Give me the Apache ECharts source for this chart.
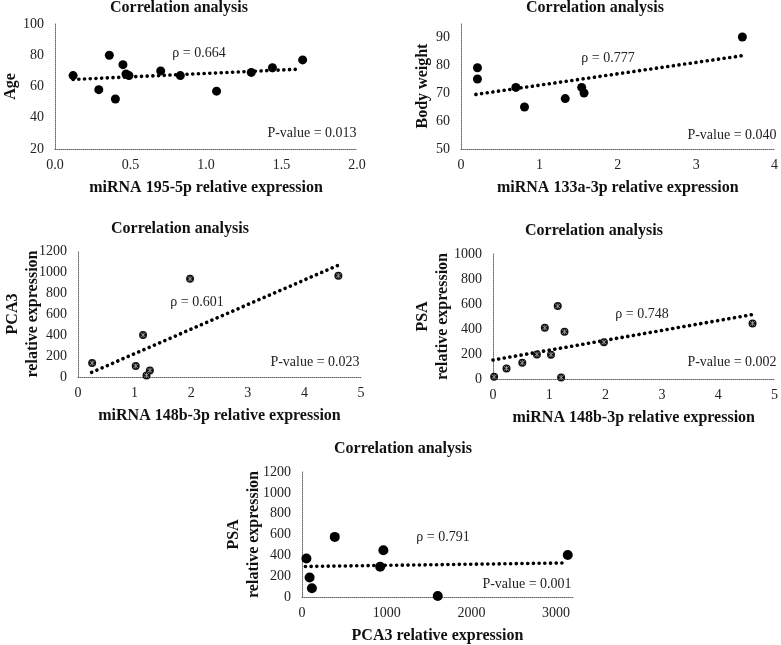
<!DOCTYPE html>
<html>
<head>
<meta charset="utf-8">
<script src="https://cdn.jsdelivr.net/npm/echarts@6/dist/echarts.min.js"></script>
<style>html,body{margin:0;padding:0;background:#fff;}#c{width:781px;height:645px;}</style>
</head>
<body>
<div id="c"></div>
<script>
// ---- Panel 1: miRNA 195-5p vs Age ----
const p1X = [0.12, 0.29, 0.36, 0.40, 0.45, 0.47, 0.49, 0.70, 0.83, 1.07, 1.30, 1.44, 1.64];
const p1Y = [67, 58, 80, 52, 74, 68, 67, 70, 67, 57, 69, 72, 77];
const p1TrendX = [0.12, 1.60];
const p1TrendY = [64.5, 71];
// ---- Panel 2: miRNA 133a-3p vs Body weight ----
const p2X = [0.21, 0.21, 0.70, 0.81, 1.33, 1.54, 1.57, 3.59];
const p2Y = [79, 75, 72, 65, 68, 72, 70, 90];
const p2TrendX = [0.19, 3.58];
const p2TrendY = [69.5, 83.3];
// ---- Panel 3: miRNA 148b-3p vs PCA3 ----
const p3X = [0.25, 1.02, 1.15, 1.21, 1.27, 1.98, 4.60];
const p3Y = [133, 105, 400, 15, 63, 935, 965];
const p3TrendX = [0.24, 4.60];
const p3TrendY = [44, 1065];
// ---- Panel 4: miRNA 148b-3p vs PSA ----
const p4X = [0.02, 0.24, 0.52, 0.78, 0.92, 1.03, 1.15, 1.21, 1.27, 1.97, 4.61];
const p4Y = [18, 85, 130, 197, 410, 195, 584, 12, 378, 295, 445];
const p4TrendX = [0.0, 4.60];
const p4TrendY = [152, 515];
// ---- Panel 5: PCA3 vs PSA ----
const p5X = [52, 90, 117, 387, 923, 961, 1603, 3138];
const p5Y = [370, 187, 84, 577, 290, 449, 10, 404];
const p5TrendX = [40, 3130];
const p5TrendY = [293, 327];

const titles = ['Correlation analysis','Correlation analysis','Correlation analysis','Correlation analysis','Correlation analysis'];
const xNames = ['miRNA 195-5p relative expression','miRNA 133a-3p relative expression','miRNA 148b-3p relative expression','miRNA 148b-3p relative expression','PCA3 relative expression'];
const yNames = ['Age','Body weight','PCA3\nrelative expression','PSA\nrelative expression','PSA\nrelative expression'];
const rhoLabels = ['ρ = 0.664','ρ = 0.777','ρ = 0.601','ρ = 0.748','ρ = 0.791'];
const pLabels = ['P-value = 0.013','P-value = 0.040','P-value = 0.023','P-value = 0.002','P-value = 0.001'];
// axis ranges: [min,max,interval]
const xRanges = [[0,2,0.5],[0,4,1],[0,5,1],[0,5,1],[0,3200,1000]];
const yRanges = [[20,100,20],[50,95,10],[0,1200,200],[0,1000,200],[0,1200,200]];

const FONT = 'Liberation Serif';
const pts = [[p1X,p1Y],[p2X,p2Y],[p3X,p3Y],[p4X,p4Y],[p5X,p5Y]];
const trends = [[p1TrendX,p1TrendY],[p2TrendX,p2TrendY],[p3TrendX,p3TrendY],[p4TrendX,p4TrendY],[p5TrendX,p5TrendY]];
const zip = (a,b) => a.map((v,i)=>[v,b[i]]);

const grids = [
  {left:53, top:24, width:304, height:125},
  {left:461, top:23, width:316, height:126},
  {left:78, top:251, width:283, height:126},
  {left:493, top:254, width:283, height:125},
  {left:302, top:472, width:271, height:125}
];
const titlePos = [[179,0],[595,0],[180,221],[594,223],[403,441]];
const yNameGap = [34, 28, 35, 40, 38];
const rhoPos = [[199,53],[608,58],[197,302],[642,314],[443,537]];
const pPos = [[312,133],[732,135],[315,362],[732,362],[527,584]];
const starred = [false,false,true,true,false];
const symSize = [9,9,8,8,10];

const axisLine = {show:true, onZero:false, lineStyle:{color:'#666', width:1, type:'dotted'}};
const xAxis = [], yAxis = [], series = [], title = [], graphic = [];
for (let i=0;i<5;i++){
  xAxis.push({
    type:'value', gridIndex:i, min:xRanges[i][0], max:xRanges[i][1], interval:xRanges[i][2],
    axisLine, axisTick:{show:false}, splitLine:{show:false},
    axisLabel:{fontFamily:FONT, fontSize:14, color:'#222', margin:9, showMaxLabel: i!==4,
      formatter: i===0 ? (v=>v.toFixed(1)) : (v=>String(v))},
    name:xNames[i], nameLocation:'middle', nameGap:31, nameMoveOverlap:false,
    nameTextStyle:{fontFamily:FONT, fontSize:16, fontWeight:'bold', color:'#111'}
  });
  yAxis.push({
    type:'value', gridIndex:i, min:yRanges[i][0], max:yRanges[i][1], interval:yRanges[i][2],
    axisLine, axisTick:{show:false}, splitLine:{show:false},
    axisLabel:{fontFamily:FONT, fontSize:14, color:'#222', margin:11, showMaxLabel: i!==1,
      formatter: v=>String(v)},
    name:yNames[i], nameLocation:'middle', nameGap:yNameGap[i], nameRotate:90, nameMoveOverlap:false,
    nameTextStyle:{fontFamily:FONT, fontSize:16, fontWeight:'bold', color:'#111', lineHeight:20, align:'center'}
  });
  series.push({
    type:'line', xAxisIndex:i, yAxisIndex:i, data:zip(trends[i][0],trends[i][1]),
    symbol:'none', silent:true, z:2,
    lineStyle:{color:'#000', width:3.6, type:[0.1,5.6], cap:'round'}
  });
  series.push({
    type:'scatter', xAxisIndex:i, yAxisIndex:i, data:zip(pts[i][0],pts[i][1]),
    symbol:'circle', symbolSize:symSize[i], z:3,
    itemStyle:{color: starred[i] ? '#111' : '#000', opacity:1}
  });
  if (starred[i]) {
    series.push({
      type:'scatter', xAxisIndex:i, yAxisIndex:i, data:zip(pts[i][0],pts[i][1]),
      symbol:'path://M0,0L10,10M10,0L0,10M5,-1L5,11', symbolSize:5, z:4, silent:true,
      itemStyle:{color:'none', borderColor:'#aaa', borderWidth:0.8, opacity:1}
    });
  }
  title.push({text:titles[i], left:titlePos[i][0], top:titlePos[i][1], textAlign:'center', padding:0,
    textStyle:{fontFamily:FONT, fontSize:16, fontWeight:'bold', color:'#111'}});
  graphic.push({type:'text', x:rhoPos[i][0], y:rhoPos[i][1],
    style:{text:rhoLabels[i], font:'14px "Liberation Serif"', fill:'#222', align:'center', verticalAlign:'middle'}});
  graphic.push({type:'text', x:pPos[i][0], y:pPos[i][1],
    style:{text:pLabels[i], font:'14px "Liberation Serif"', fill:'#222', align:'center', verticalAlign:'middle'}});
}

const chart = echarts.init(document.getElementById('c'), null, {renderer:'canvas'});
chart.setOption({
  animation:false, backgroundColor:'#fff',
  title, grid:grids, xAxis, yAxis, series, graphic
});
</script>
</body>
</html>
